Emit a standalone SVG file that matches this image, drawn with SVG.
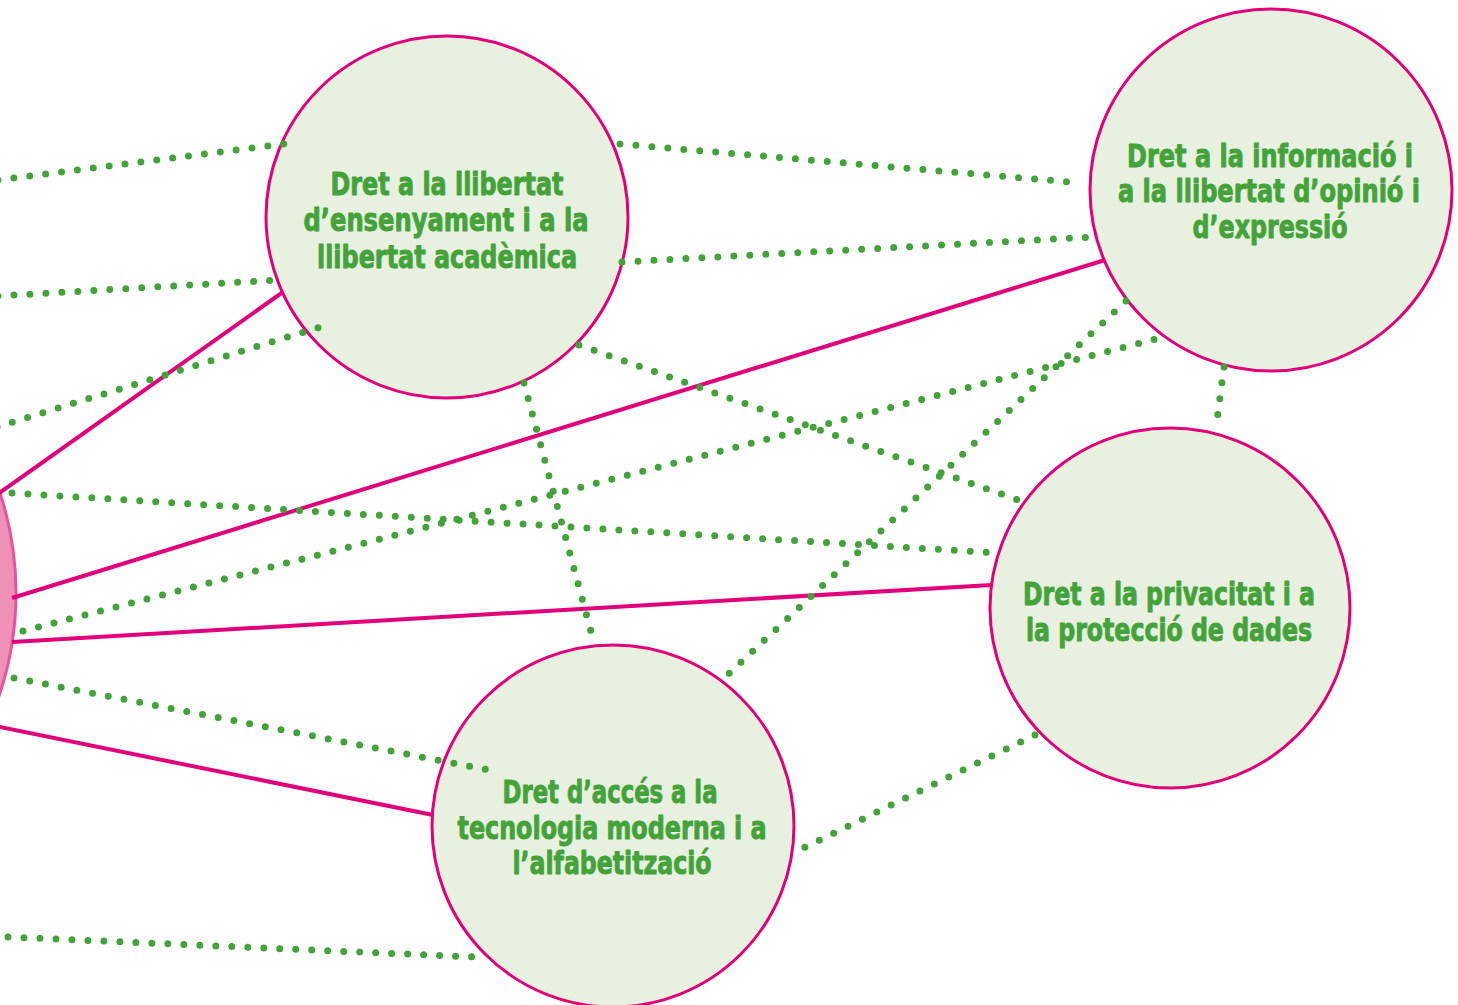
<svg xmlns="http://www.w3.org/2000/svg" width="1458" height="1005" viewBox="0 0 1458 1005">
<style>
.node{fill:#e8f0e0;stroke:#e2007a;stroke-width:3}
.hub{fill:#ee90b8;stroke:#e6559a;stroke-width:3}
.lbl{font-family:"Liberation Sans Narrow","DejaVu Sans Condensed","Liberation Sans",sans-serif;font-stretch:condensed;font-weight:bold;font-size:32px;fill:#43a33a;stroke:#43a33a;stroke-width:0.9;stroke-linejoin:round;text-anchor:middle}
.solid{stroke:#e2007a;stroke-width:4;fill:none}
.dot{stroke:#43a33a;stroke-width:7;stroke-linecap:round;stroke-dasharray:0 16;fill:none}
</style>
<rect width="1458" height="1005" fill="#ffffff"/>
<g id="hub"><circle class="hub" cx="-304" cy="593" r="320"/></g>
<g id="node-ensenyament">
<circle class="node" cx="447" cy="217" r="181"/>
<text class="lbl"><tspan x="447" y="195" textLength="233" lengthAdjust="spacingAndGlyphs">Dret a la llibertat</tspan><tspan x="446" y="231" textLength="285" lengthAdjust="spacingAndGlyphs">d’ensenyament i a la</tspan><tspan x="447" y="268" textLength="260" lengthAdjust="spacingAndGlyphs">llibertat acadèmica</tspan></text>
</g>
<g id="node-informacio">
<circle class="node" cx="1271" cy="190" r="181"/>
<text class="lbl"><tspan x="1270" y="167" textLength="286" lengthAdjust="spacingAndGlyphs">Dret a la informació i</tspan><tspan x="1269" y="202" textLength="302" lengthAdjust="spacingAndGlyphs">a la llibertat d’opinió i</tspan><tspan x="1270" y="238" textLength="155" lengthAdjust="spacingAndGlyphs">d’expressió</tspan></text>
</g>
<g id="node-privacitat">
<circle class="node" cx="1170" cy="608" r="180"/>
<text class="lbl"><tspan x="1169" y="605" textLength="292" lengthAdjust="spacingAndGlyphs">Dret a la privacitat i a</tspan><tspan x="1169" y="641" textLength="286" lengthAdjust="spacingAndGlyphs">la protecció de dades</tspan></text>
</g>
<g id="node-tecnologia">
<circle class="node" cx="613" cy="826" r="181"/>
<text class="lbl"><tspan x="610" y="803" textLength="215" lengthAdjust="spacingAndGlyphs">Dret d’accés a la</tspan><tspan x="612" y="839" textLength="309" lengthAdjust="spacingAndGlyphs">tecnologia moderna i a</tspan><tspan x="612" y="874" textLength="199" lengthAdjust="spacingAndGlyphs">l’alfabetització</tspan></text>
</g>
<g id="connectors">
<line class="solid" x1="-5" y1="496" x2="283" y2="292"/>
<line class="solid" x1="12" y1="598" x2="1105" y2="260"/>
<line class="solid" x1="12" y1="642" x2="992" y2="585"/>
<line class="solid" x1="-5" y1="726" x2="433" y2="815"/>
<line class="dot" x1="-2" y1="180" x2="284" y2="144"/>
<line class="dot" x1="-2" y1="296" x2="278" y2="280"/>
<line class="dot" x1="-3" y1="427" x2="333" y2="323"/>
<line class="dot" x1="12" y1="493" x2="998" y2="553"/>
<line class="dot" x1="23" y1="631" x2="1160" y2="338"/>
<line class="dot" x1="14" y1="678" x2="499" y2="772"/>
<line class="dot" x1="8" y1="937" x2="475" y2="957"/>
<line class="dot" x1="620" y1="144" x2="1082" y2="183"/>
<line class="dot" x1="622" y1="262" x2="1093" y2="237"/>
<line class="dot" x1="579" y1="345" x2="1024" y2="502"/>
<line class="dot" x1="524" y1="383" x2="593" y2="639"/>
<line class="dot" x1="1126" y1="301" x2="722" y2="680"/>
<line class="dot" x1="1224" y1="367" x2="1216" y2="428"/>
<line class="dot" x1="1035" y1="735" x2="795" y2="852"/>
</g>
</svg>
